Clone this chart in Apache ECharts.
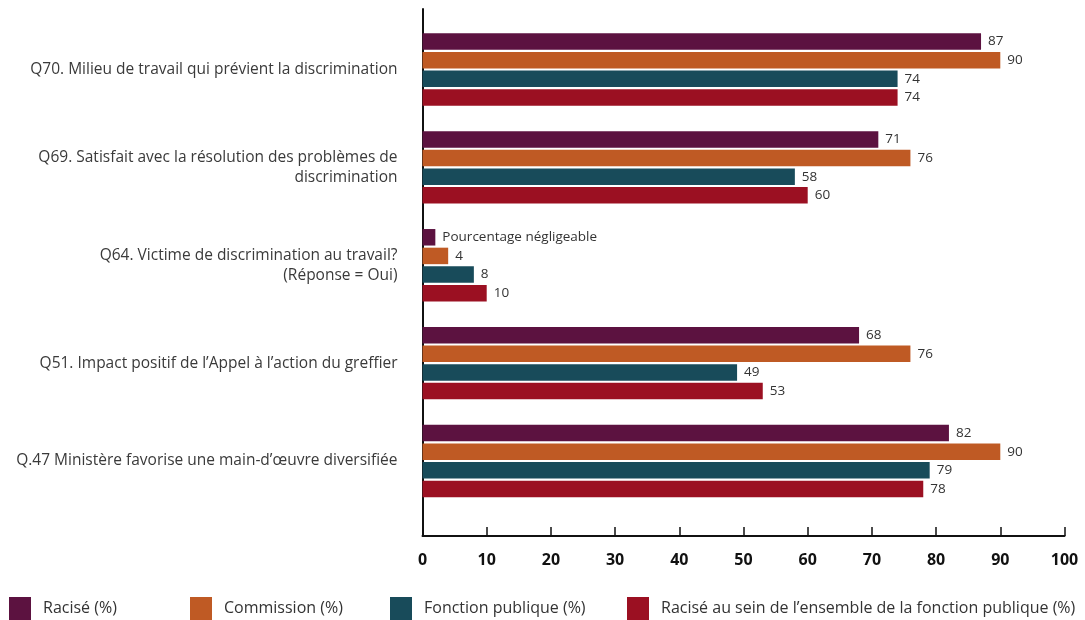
<!DOCTYPE html>
<html>
<head>
<meta charset="utf-8">
<script src="https://cdn.jsdelivr.net/npm/echarts@6/dist/echarts.min.js"></script>
<style>
html,body{margin:0;padding:0;background:#fff;}
#chart{width:1085px;height:620px;}
</style>
</head>
<body>
<div id="chart"></div>
<script>
// ---- data (top to bottom) ----
const categories = [
  "Q70. Milieu de travail qui prévient la discrimination",
  "Q69. Satisfait avec la résolution des problèmes de\ndiscrimination",
  "Q64. Victime de discrimination au travail?\n(Réponse = Oui)",
  "Q51. Impact positif de l’Appel à l’action du greffier",
  "Q.47 Ministère favorise une main-d’œuvre diversifiée"
];
const seriesNames = [
  "Racisé (%)",
  "Commission (%)",
  "Fonction publique (%)",
  "Racisé au sein de l’ensemble de la fonction publique (%)"
];
const racise = [87, 71, 2, 68, 82];
const raciseNotes = [null, null, "Pourcentage négligeable", null, null];
const commission = [90, 76, 4, 76, 90];
const fonctionPublique = [74, 58, 8, 49, 79];
const raciseEnsemble = [74, 60, 10, 53, 78];
const xTicks = [0, 10, 20, 30, 40, 50, 60, 70, 80, 90, 100];

const colors = ["#5c1240", "#bf5a24", "#184b5a", "#9b1022"];
const FONT = "'Open Sans', sans-serif";

const chart = echarts.init(document.getElementById('chart'), null, {renderer: 'canvas'});

function mkSeries(name, data, color, notes) {
  return {
    name: name,
    type: 'bar',
    xAxisIndex: 0,
    yAxisIndex: 0,
    data: data,
    barWidth: 16.5,
    barGap: '13%',
    itemStyle: {color: color},
    label: {
      show: true,
      position: 'right',
      distance: 7,
      fontFamily: FONT,
      fontSize: 13.5,
      color: '#333',
      formatter: function (p) {
        return (notes && notes[p.dataIndex]) ? notes[p.dataIndex] : p.value;
      }
    }
  };
}

const legendLefts = [9, 190, 390, 627];

const option = {
  animation: false,
  backgroundColor: '#ffffff',
  color: colors,
  legend: seriesNames.map(function (n, i) {
    return {
      data: [n],
      left: legendLefts[i],
      top: 597,
      padding: 0,
      itemWidth: 22,
      itemHeight: 23,
      icon: 'rect',
      textStyle: {fontFamily: FONT, fontSize: 16, color: '#333', padding: [0, 0, 0, 7]}
    };
  }),
  grid: [
    {left: 422.5, right: 20.5, top: 20.5, bottom: 110},
    {left: 422.5, right: 20.5, top: 9, bottom: 84}
  ],
  xAxis: [
    {gridIndex: 0, type: 'value', min: 0, max: 100, show: false},
    {
      gridIndex: 1, type: 'value', min: 0, max: 100, interval: 10,
      axisLine: {show: true, lineStyle: {color: '#111', width: 2}},
      axisTick: {show: true, inside: true, length: 9, lineStyle: {color: '#111', width: 1.5}},
      splitLine: {show: false},
      axisLabel: {
        margin: 16, fontFamily: FONT, fontSize: 16, fontWeight: 'bold', color: '#111',
        formatter: function (v) { return xTicks.indexOf(v) >= 0 ? String(v) : ''; }
      }
    }
  ],
  yAxis: [
    {
      gridIndex: 0, type: 'category', data: categories, inverse: true,
      axisLine: {show: false}, axisTick: {show: false}, splitLine: {show: false},
      axisLabel: {margin: 25, fontFamily: FONT, fontSize: 15.5, color: '#3a3a3a', align: 'right', lineHeight: 20}
    },
    {
      gridIndex: 1, type: 'value', min: 0, max: 1,
      axisLine: {show: true, lineStyle: {color: '#111', width: 2}},
      axisTick: {show: false}, axisLabel: {show: false}, splitLine: {show: false}
    }
  ],
  series: [
    mkSeries(seriesNames[0], racise, colors[0], raciseNotes),
    mkSeries(seriesNames[1], commission, colors[1]),
    mkSeries(seriesNames[2], fonctionPublique, colors[2]),
    mkSeries(seriesNames[3], raciseEnsemble, colors[3])
  ]
};
chart.setOption(option);
</script>
</body>
</html>
